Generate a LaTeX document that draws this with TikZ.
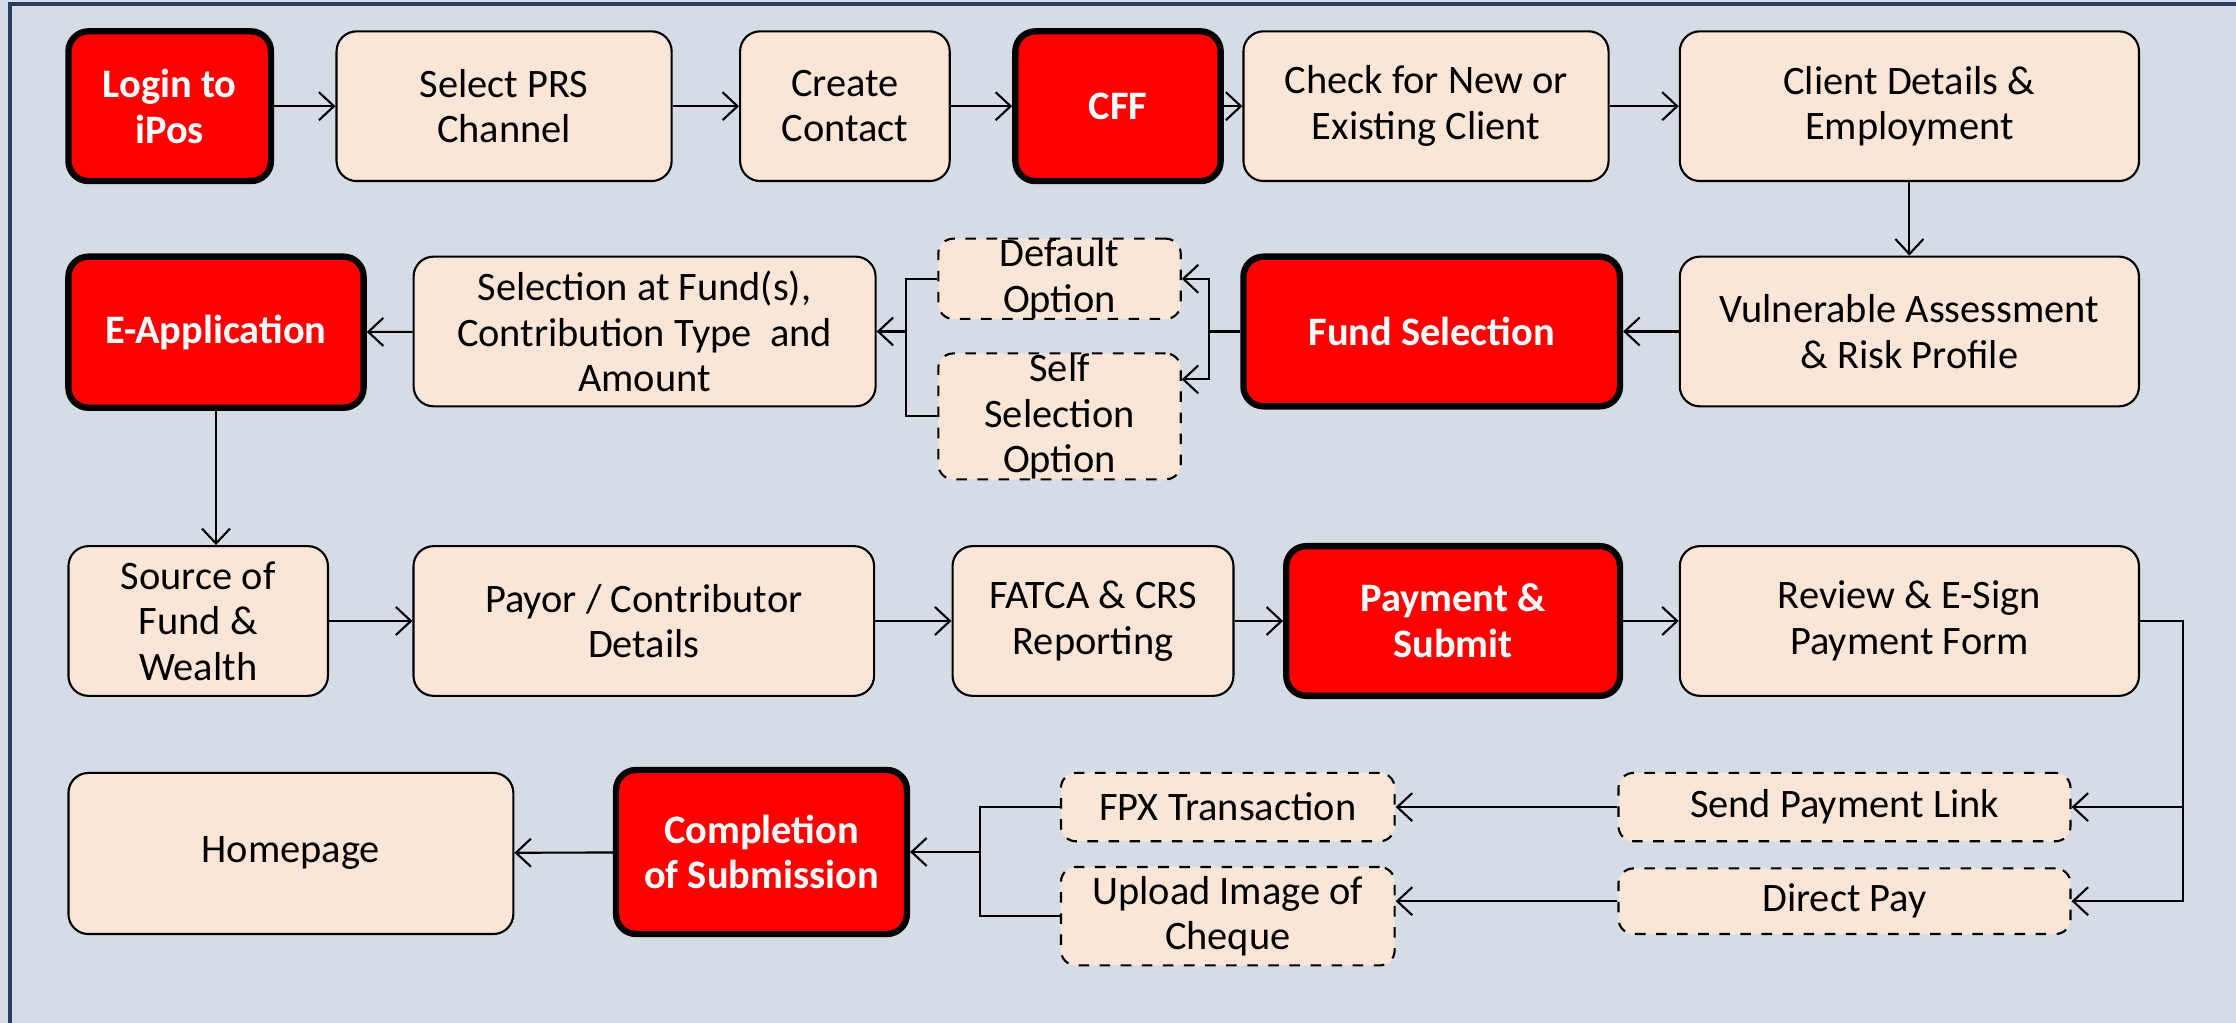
\documentclass[tikz,border=0pt]{standalone}
\usepackage{fontspec}
\setmainfont{Carlito}
\usetikzlibrary{arrows.meta,positioning}

\definecolor{bgblue}{RGB}{214,220,229}
\definecolor{frameblue}{RGB}{36,63,96}
\definecolor{peach}{RGB}{251,229,214}

\begin{document}
\begin{tikzpicture}[
    box/.style={draw=black, line width=0.6pt, fill=peach, rounded corners=2mm,
      align=center, inner sep=0pt, minimum height=1.497cm,
      font=\fontsize{11.5}{13}\selectfont},
    redbox/.style={box, fill=red, line width=1.8pt, text=white,
      font=\fontsize{11.5}{13}\selectfont\bfseries},
    optbox/.style={box, dashed, rounded corners=1.5mm},
    >={Straight Barb[length=1.5mm,width=2.8mm]},
    every path/.style={line width=0.6pt}]

  \useasboundingbox (0,0) rectangle (22.36,-10.23);
  \fill [bgblue] (0,0) rectangle (22.36,-10.23);
  \draw [frameblue, line width=1pt] (0.1,-10.3) -- (0.1,-0.04) -- (22.4,-0.04);

  % row 1
  \node [redbox, minimum width=2.025cm] (login)   at (1.697,-1.062)  {Login to\\iPos};
  \node [box, minimum width=3.351cm]    (prs)     at (5.041,-1.062)  {Select PRS\\Channel};
  \node [box, minimum width=2.096cm]    (contact) at (8.449,-1.062)  {Create\\Contact};
  \node [redbox, minimum width=2.053cm] (cff)     at (11.180,-1.062) {CFF};
  \node [box, minimum width=3.651cm]    (check)   at (14.260,-1.062) {Check for New or\\Existing Client};
  \node [box, minimum width=4.592cm]    (client)  at (19.094,-1.062) {Client Details \&\\Employment};

  % row 2
  \node [redbox, minimum width=2.952cm, minimum height=1.511cm] (eapp) at (2.160,-3.322) {E-Application};
  \node [box, minimum width=4.620cm] (selfund) at (6.446,-3.315) {Selection at Fund(s),\\Contribution Type \ and\\Amount};
  \node [optbox, minimum width=2.424cm, minimum height=0.784cm] (default) at (10.595,-2.788) {Default\\Option};
  \node [optbox, minimum width=2.424cm, minimum height=1.255cm] (selfsel) at (10.595,-4.164) {Self\\Selection\\Option};
  \node [redbox, minimum width=3.765cm] (fundsel) at (14.317,-3.315) {Fund Selection};
  \node [box, minimum width=4.592cm]    (vuln)    at (19.094,-3.315) {Vulnerable Assessment\\\& Risk Profile};

  % row 3
  \node [box, minimum width=2.595cm]    (source) at (1.982,-6.210)  {Source of\\Fund \&\\Wealth};
  \node [box, minimum width=4.606cm]    (payor)  at (6.438,-6.210)  {Payor / Contributor\\Details};
  \node [box, minimum width=2.809cm]    (fatca)  at (10.930,-6.210) {FATCA \& CRS\\Reporting};
  \node [redbox, minimum width=3.337cm] (paysub) at (14.531,-6.210) {Payment \&\\Submit};
  \node [box, minimum width=4.592cm]    (review) at (19.094,-6.210) {Review \& E-Sign\\Payment Form};

  % row 4
  \node [box, minimum width=4.449cm, minimum height=1.611cm]    (homepage)  at (2.909,-8.535)  {Homepage};
  \node [redbox, minimum width=2.909cm, minimum height=1.640cm] (complete)  at (7.615,-8.520)  {Completion\\of Submission};
  \node [optbox, minimum width=3.337cm, minimum height=0.684cm] (fpx)       at (12.278,-8.071) {FPX Transaction};
  \node [optbox, minimum width=3.337cm, minimum height=0.984cm] (upload)    at (12.278,-9.162) {Upload Image of\\Cheque};
  \node [optbox, minimum width=4.520cm, minimum height=0.684cm] (sendlink)  at (18.445,-8.071) {Send Payment Link};
  \node [optbox, minimum width=4.520cm, minimum height=0.656cm] (directpay) at (18.445,-9.012) {Direct Pay};

  % connectors
  \draw [->] (login) -- (prs);
  \draw [->] (prs) -- (contact);
  \draw [->] (contact) -- (cff);
  \draw [->] (cff) -- (check);
  \draw [->] (check) -- (client);
  \draw [->] (client) -- (vuln);
  \draw [->] (vuln) -- (fundsel);

  \draw (fundsel.west) -- ++(-0.31,0) coordinate (fj);
  \draw [->] (fj) |- (default.east);
  \draw [->] (fj) |- ([yshift=0.37cm]selfsel.east);
  \draw (default.west) -- ++(-0.31,0) coordinate (oj) |- (selfsel.west);
  \draw [->] (oj |- selfund.east) -- (selfund.east);
  \draw [->] (selfund) -- (eapp);
  \draw [->] (eapp.south) -- (eapp.south |- source.north);

  \draw [->] (source) -- (payor);
  \draw [->] (payor) -- (fatca);
  \draw [->] (fatca) -- (paysub);
  \draw [->] (paysub) -- (review);

  \draw [->] (review.east) -- ++(0.43,0) coordinate (rj) |- (sendlink.east);
  \draw [->] (rj) |- (directpay.east);
  \draw [->] (sendlink) -- (fpx);
  \draw [->] (directpay.west) -- (directpay.west -| upload.east);
  \draw (fpx.west) -- ++(-0.8,0) coordinate (cj) |- (upload.west);
  \draw [->] (cj |- complete.east) -- (complete.east);
  \draw [->] (complete) -- (homepage);

\end{tikzpicture}
\end{document}
